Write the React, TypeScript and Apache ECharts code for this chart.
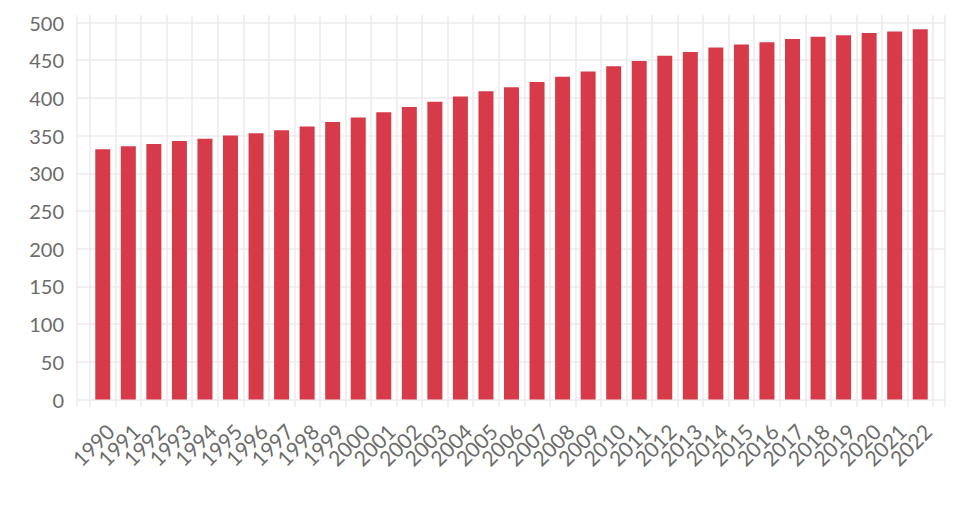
import React, { useEffect, useRef } from "react";
import * as echarts from "echarts";

const years: string[] = [
  "1990", "1991", "1992", "1993", "1994", "1995", "1996", "1997", "1998", "1999",
  "2000", "2001", "2002", "2003", "2004", "2005", "2006", "2007", "2008", "2009",
  "2010", "2011", "2012", "2013", "2014", "2015", "2016", "2017", "2018", "2019",
  "2020", "2021", "2022",
];

const values: number[] = [
  332, 336, 339, 343, 346, 350, 353, 357, 362, 368,
  374, 381, 388, 395, 402, 409, 414, 421, 428, 435,
  442, 449, 456, 461, 467, 471, 474, 478, 481, 483,
  486, 488, 491,
];

const yMin = 0;
const yMax = 500;
const yStep = 50;

const GRID_COLOR = "#ebebeb";
const TEXT_COLOR = "#6b6b6b";
const BAR_COLOR = "#d73b4a";
const FONT = "Lato, 'Noto Sans', sans-serif";

export default function App() {
  const ref = useRef<HTMLDivElement>(null);

  useEffect(() => {
    if (!ref.current) return;
    const chart = echarts.init(ref.current, undefined, { renderer: "svg" });
    chart.setOption({
      animation: false,
      backgroundColor: "#ffffff",
      grid: [
        { left: 90, right: 27, top: 15, bottom: 103 },
        { left: 77, right: 15, top: 22.5, bottom: 110.5 },
        { left: 77, right: 15, top: 15, bottom: 103 },
      ],
      xAxis: [
        {
          type: "category",
          gridIndex: 0,
          data: years,
          boundaryGap: true,
          axisLine: { show: false },
          axisTick: { show: false },
          splitLine: { show: true, lineStyle: { color: GRID_COLOR, width: 1.5 } },
          axisLabel: {
            interval: 0,
            rotate: 45,
            margin: 13,
            verticalAlign: "top",
            color: TEXT_COLOR,
            fontFamily: FONT,
            fontSize: 21,
          },
        },
        {
          type: "value",
          gridIndex: 1,
          min: 0,
          max: 1,
          show: false,
        },
        {
          type: "value",
          gridIndex: 2,
          min: 0,
          max: 1,
          interval: 1,
          axisLine: { show: false },
          axisTick: { show: false },
          axisLabel: { show: false },
          splitLine: { show: true, lineStyle: { color: GRID_COLOR, width: 1.5 } },
        },
      ],
      yAxis: [
        {
          type: "value",
          gridIndex: 0,
          min: -10,
          max: 510,
          show: false,
          splitLine: { show: false },
        },
        {
          type: "value",
          gridIndex: 1,
          min: yMin,
          max: yMax,
          interval: yStep,
          axisLine: { show: false },
          axisTick: { show: false },
          splitLine: { show: true, lineStyle: { color: GRID_COLOR, width: 1.5 } },
          axisLabel: {
            margin: 13,
            color: TEXT_COLOR,
            fontFamily: FONT,
            fontSize: 20,
          },
        },
        {
          type: "value",
          gridIndex: 2,
          min: 0,
          max: 1,
          show: false,
          splitLine: { show: false },
        },
      ],
      series: [
        {
          type: "bar",
          xAxisIndex: 0,
          yAxisIndex: 0,
          data: values,
          barWidth: 15,
          itemStyle: { color: BAR_COLOR },
        },
      ],
    });
    return () => chart.dispose();
  }, []);

  return <div ref={ref} style={{ width: 960, height: 510, margin: -8 }} />;
}
